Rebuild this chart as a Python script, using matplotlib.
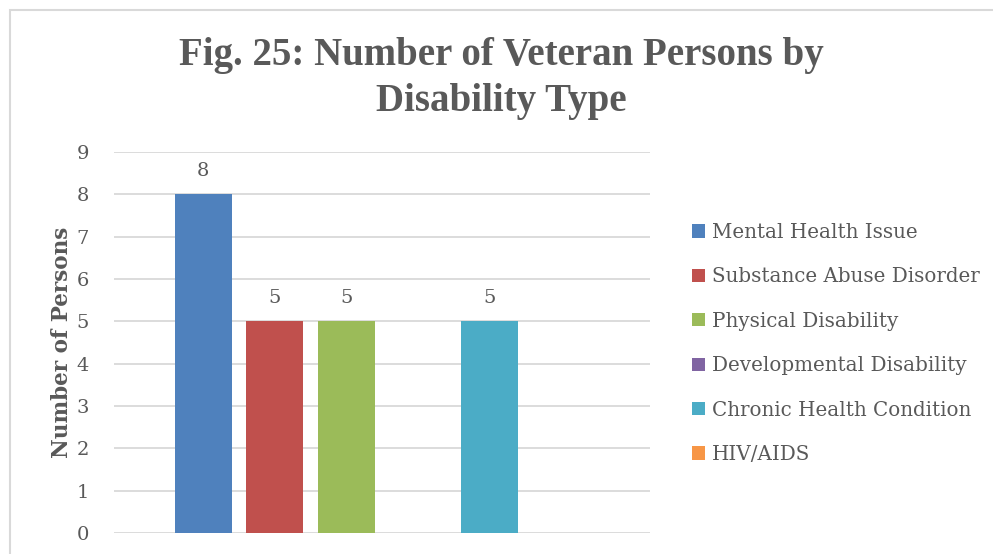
import matplotlib.pyplot as plt
from matplotlib.patches import Rectangle, Patch
from matplotlib import font_manager

# data
series = ['Mental Health Issue', 'Substance Abuse Disorder', 'Physical Disability',
          'Developmental Disability', 'Chronic Health Condition', 'HIV/AIDS']
valores = [8, 5, 5, 0, 5, 0]
cores = ['#4F81BD', '#C0504D', '#9BBB59', '#8064A2', '#4BACC6', '#F79646']
yticks = list(range(0, 10))

nomes = {f.name for f in font_manager.fontManager.ttflist}
serif = 'DejaVu Serif'
titulo_font = 'DejaVu Serif Condensed' if 'DejaVu Serif Condensed' in nomes else 'Liberation Serif'
texto = '#595959'

fig = plt.figure(figsize=(9.93, 5.54), dpi=100)
fig.patches.append(Rectangle((10 / 993, -0.1), 1.2, 1 - 10 / 554 + 0.1, transform=fig.transFigure,
                             fill=False, edgecolor='#D9D9D9', linewidth=1.5))

ax = fig.add_axes([114 / 993, 1 - 533 / 554, 536 / 993, (533 - 152) / 554])

passo = 0.1334
largura = 0.106
for i, (nome, v, c) in enumerate(zip(series, valores, cores)):
    x = (i - 2.5) * passo
    ax.bar(x, v, width=largura, color=c, zorder=3, label=nome)
    if v > 0:
        ax.text(x, v + 0.33, str(v), ha='center', va='bottom', fontsize=14,
                family=serif, color=texto)

ax.set_xlim(-0.5, 0.5)
ax.set_ylim(0, 9)
ax.set_yticks(yticks)
ax.set_xticks([])
ax.grid(axis='y', color='#D9D9D9', linewidth=1.3, zorder=0)
for s in ax.spines.values():
    s.set_visible(False)
ax.tick_params(axis='y', length=0, pad=18, labelsize=14, labelcolor=texto)
for t in ax.get_yticklabels():
    t.set_family(serif)
ax.set_ylabel('Number of Persons', fontsize=15.5, fontweight='bold', family=serif, color=texto)
ax.yaxis.set_label_coords(-0.077, 0.5)

fig.text(0.505, 1 - 55 / 554, 'Fig. 25: Number of Veteran Persons by', ha='center', va='center',
         fontsize=28, fontweight='bold', family=titulo_font, color=texto)
fig.text(0.505, 1 - 101 / 554, 'Disability Type', ha='center', va='center',
         fontsize=28, fontweight='bold', family=titulo_font, color=texto)

handles = [Patch(facecolor=c, edgecolor='none') for c in cores]
leg = fig.legend(handles, series, loc='upper left', bbox_to_anchor=(674 / 993, 1 - 205 / 554),
                 frameon=False, handlelength=0.65, handleheight=0.65, handletextpad=0.35,
                 labelspacing=1.28, prop={'family': serif, 'size': 14.3})
for t in leg.get_texts():
    t.set_color(texto)

fig.savefig('out.png', dpi=100)
